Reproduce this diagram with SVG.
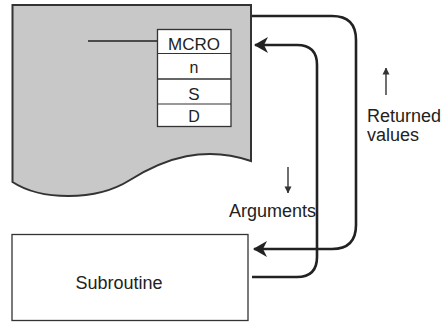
<svg xmlns="http://www.w3.org/2000/svg" width="445" height="322" viewBox="0 0 445 322">
<style>
.t{font-family:"Liberation Sans",Arial,sans-serif;fill:#222}
.box{fill:#fff;stroke:#333;stroke-width:1.3}
.conn{fill:none;stroke:#222;stroke-width:2.6}
.thin{fill:none;stroke:#333;stroke-width:1.4}
</style>
<defs>
<marker id="ah" viewBox="0 0 14 16" refX="13" refY="8" markerWidth="14" markerHeight="16" markerUnits="userSpaceOnUse" orient="auto">
<path d="M0,0 L14,8 L0,16 L4,8 Z" fill="#222"/>
</marker>
<marker id="sa" viewBox="0 0 8 8" refX="7.5" refY="4" markerWidth="7" markerHeight="8" markerUnits="userSpaceOnUse" orient="auto">
<path d="M0,0 L8,4 L0,8 Z" fill="#333"/>
</marker>
</defs>
<g id="program">
<path d="M12.5,5 H251 V161 C205,145 165,158 130,180 C95,202 40,200 12.5,182 Z" fill="#c8c8c8" stroke="#333" stroke-width="2"/>
<line x1="88" y1="41" x2="157.5" y2="41" stroke="#222" stroke-width="1.6"/>
</g>
<g id="mcro">
<rect class="box" x="157.5" y="29.5" width="73.5" height="97"/>
<line x1="157.5" y1="53.5" x2="231" y2="53.5" stroke="#333" stroke-width="1.2"/>
<line x1="157.5" y1="79" x2="231" y2="79" stroke="#333" stroke-width="1.6"/>
<line x1="157.5" y1="104" x2="231" y2="104" stroke="#333" stroke-width="1.2"/>
<text class="t" x="194" y="49.5" font-size="17" text-anchor="middle">MCRO</text>
<text class="t" x="194" y="73" font-size="16" text-anchor="middle">n</text>
<text class="t" x="194" y="99.5" font-size="17" text-anchor="middle">S</text>
<text class="t" x="194" y="122" font-size="16" text-anchor="middle">D</text>
</g>
<g id="subroutine">
<rect class="box" x="12" y="234.5" width="236" height="86" stroke-width="1.6"/>
<text class="t" x="119" y="289" font-size="18" text-anchor="middle">Subroutine</text>
</g>
<g id="connectors">
<path class="conn" d="M252,16 H332 Q356,16 356,40 V225 Q356,249 332,249 H254" marker-end="url(#ah)"/>
<path class="conn" d="M252,277 H297 Q317,277 317,257 V65 Q317,45 297,45 H255" marker-end="url(#ah)"/>
<line class="thin" x1="386" y1="95" x2="386" y2="68" marker-end="url(#sa)"/>
<line class="thin" x1="288" y1="167" x2="288" y2="193" marker-end="url(#sa)"/>
</g>
<g id="labels">
<text class="t" x="367" y="122" font-size="18">Returned</text>
<text class="t" x="367" y="141" font-size="18">values</text>
<text class="t" x="229" y="217" font-size="18">Arguments</text>
</g>
</svg>
